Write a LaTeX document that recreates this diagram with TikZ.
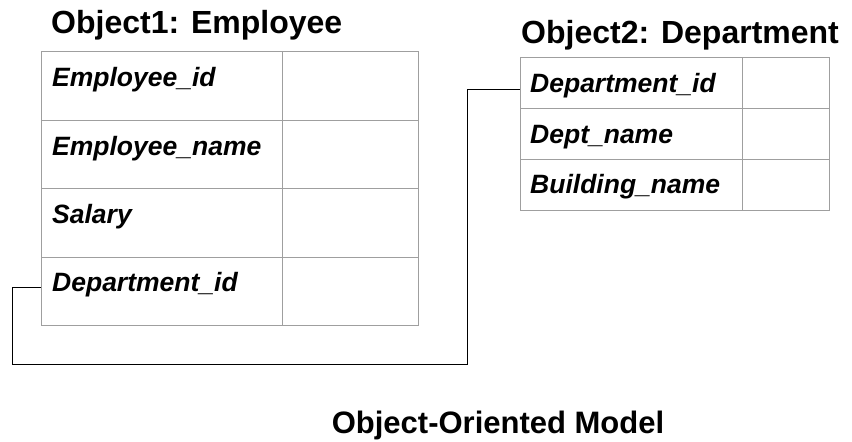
\documentclass[tikz,border=0pt]{standalone}
\usepackage{fontspec}
\setmainfont{Liberation Sans}
\usetikzlibrary{positioning}

\tikzset{
	cellline/.style={draw=gray!75, line width=0.8pt},
	fieldtext/.style={anchor=base west, inner sep=0pt, font=\fontsize{26.5}{30}\selectfont\bfseries\itshape},
	titletext/.style={anchor=base west, inner sep=0pt, font=\fontsize{32}{36}\selectfont\bfseries},
	link/.style={draw=black, line width=0.8pt}
}

\begin{document}
\begin{tikzpicture}[x=1pt, y=-1pt]
		\useasboundingbox (0, 0) rectangle (852, 442);
		
		% Object1
		\node[titletext] (emptitle) at (51, 33) {Object1: Employee};
		\draw[cellline] (41, 51) rectangle (418, 325);
		\draw[cellline] (282, 51) -- (282, 325);
		\draw[cellline] (41, 120) -- (418, 120);
		\draw[cellline] (41, 188) -- (418, 188);
		\draw[cellline] (41, 257) -- (418, 257);
		
		\node[fieldtext] (empid) at (52, 86) {Employee\_id};
		\node[fieldtext] (empname) at (52, 155) {Employee\_name};
		\node[fieldtext] (salary) at (52, 223) {Salary};
		\node[fieldtext] (empdeptid) at (52, 291) {Department\_id};
		
		% Object2
		\node[titletext] (depttitle) at (521, 43) {Object2: Department};
		\draw[cellline] (520, 57) rectangle (829, 210);
		\draw[cellline] (742, 57) -- (742, 210);
		\draw[cellline] (520, 108) -- (829, 108);
		\draw[cellline] (520, 159) -- (829, 159);
		
		\node[fieldtext] (deptid) at (530, 92) {Department\_id};
		\node[fieldtext] (deptname) at (530, 143) {Dept\_name};
		\node[fieldtext] (bldname) at (530, 193) {Building\_name};
		
		% link
		\coordinate (empdept) at (41, 287);
		\coordinate (deptkey) at (520, 89);
		\coordinate (bend) at (467, 364);
		\draw[link] (empdept) -- (12, 287) |- (bend) |- (deptkey);
		
		\node[anchor=base, inner sep=0pt, font=\fontsize{31}{35}\selectfont\bfseries] (caption) at (498, 433) {Object-Oriented Model};
	\end{tikzpicture}
\end{document}
